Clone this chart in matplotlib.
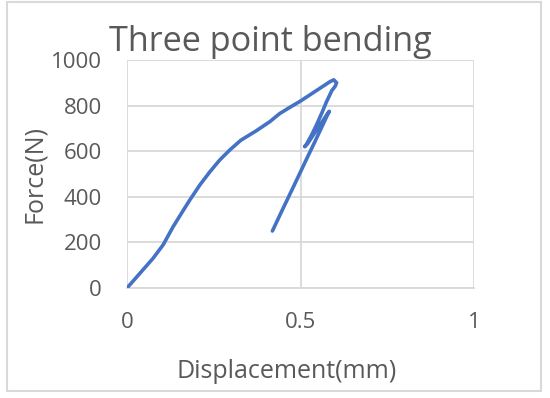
import matplotlib
matplotlib.use("Agg")
import matplotlib.pyplot as plt
from matplotlib.patches import Rectangle

# Data (displacement mm, force N)
displacement = [0.000, 0.037, 0.075, 0.104, 0.133, 0.157, 0.181, 0.210, 0.239, 0.267,
                0.296, 0.328, 0.373, 0.412, 0.440, 0.470, 0.500, 0.530, 0.560, 0.585,
                0.596, 0.604, 0.600, 0.590, 0.575, 0.561, 0.546, 0.532, 0.517, 0.512,
                0.520, 0.545, 0.565, 0.580, 0.583, 0.578, 0.561, 0.541, 0.522, 0.480,
                0.450, 0.419]
force = [0, 64, 130, 189, 269, 328, 386, 452, 510, 561,
         605, 648, 690, 730, 765, 793, 820, 850, 880, 905,
         913, 900, 885, 865, 817, 766, 715, 671, 630, 620,
         632, 690, 735, 770, 775, 760, 705, 640, 580, 445,
         350, 250]

x_ticks = [0, 0.5, 1]
x_tick_labels = ["0", "0.5", "1"]
y_ticks = [0, 200, 400, 600, 800, 1000]

title = "Three point bending"
x_label = "Displacement(mm)"
y_label = "Force(N)"

plt.rcParams['font.family'] = ['Open Sans', 'DejaVu Sans']

W, H = 550, 398
fig = plt.figure(figsize=(W / 100, H / 100), dpi=100)
ax = fig.add_axes([127 / W, 1 - 288 / H, (474 - 127) / W, (288 - 60) / H])

ax.plot(displacement, force, color="#4472C4", lw=2.6, solid_capstyle="round",
        solid_joinstyle="round", zorder=3)

ax.set_xlim(0, 1)
ax.set_ylim(0, 1000)
ax.set_xticks(x_ticks)
ax.set_xticklabels(x_tick_labels)
ax.set_yticks(y_ticks)
ax.grid(True, color="#D9D9D9", lw=1.3)
ax.set_axisbelow(True)
for s in ["top", "right", "left"]:
    ax.spines[s].set_visible(False)
ax.spines["bottom"].set_color("#D9D9D9")
ax.spines["bottom"].set_linewidth(1.3)
ax.tick_params(length=0, labelsize=16, colors="#595959")
ax.tick_params(axis="y", pad=18)
ax.tick_params(axis="x", pad=17)

fig.text(270 / W, 1 - 42 / H, title, ha="center", va="center", fontsize=24.7, color="#595959")
fig.text(287 / W, 1 - 372 / H, x_label, ha="center", va="center", fontsize=18, color="#595959")
fig.text(35 / W, 1 - 174 / H, y_label, ha="center", va="center", rotation=90, fontsize=18,
         color="#595959")

fig.patches.append(Rectangle((7 / W, 1 - 391 / H), 534 / W, 389 / H, transform=fig.transFigure,
                             fill=False, edgecolor="#D9D9D9", lw=1.5))

fig.savefig("out.png", dpi=100, facecolor="white")
